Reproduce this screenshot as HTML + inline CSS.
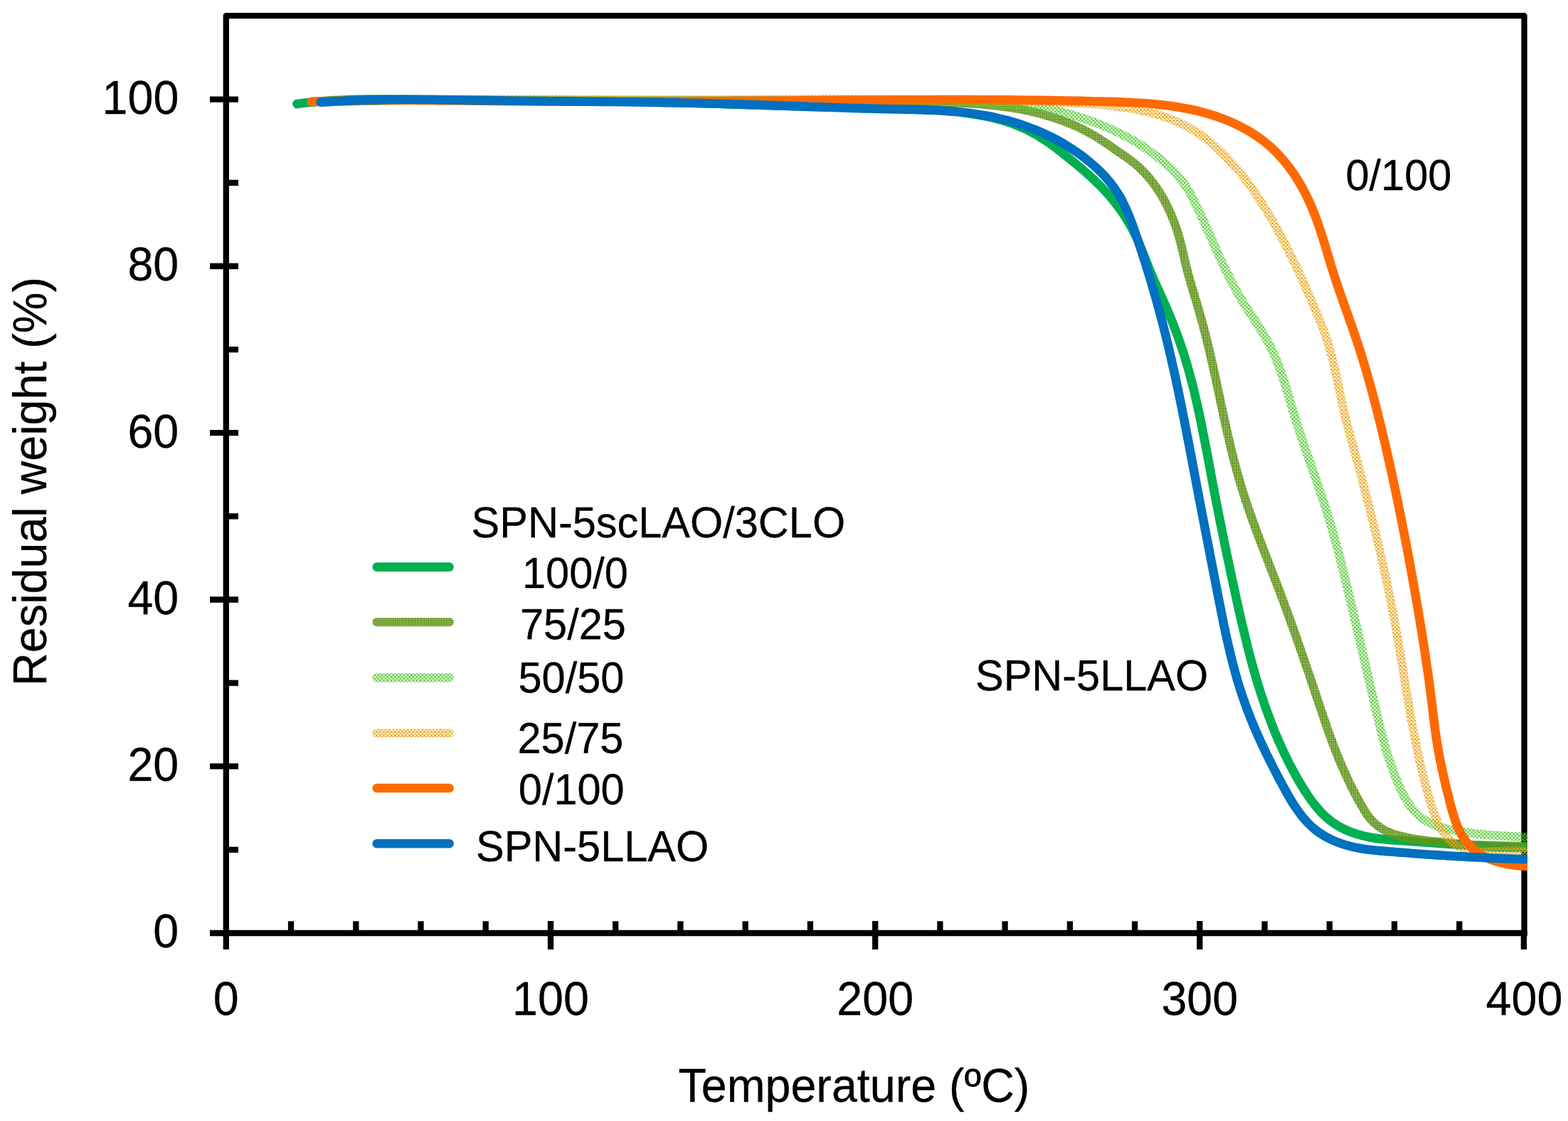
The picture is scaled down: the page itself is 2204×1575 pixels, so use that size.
<!DOCTYPE html>
<html lang="en"><head><meta charset="utf-8"><title>TGA curves: SPN-5scLAO/3CLO</title>
<style>html,body{margin:0;padding:0;background:#fff;}svg{display:block;}text{font-family:"Liberation Sans",sans-serif;fill:#000;}</style>
</head><body>
<svg width="2204" height="1575" viewBox="0 0 2204 1575">
<defs>
<clipPath id="plot"><rect x="300" y="22" width="1847" height="1289"/></clipPath>
<pattern id="pOl" patternUnits="userSpaceOnUse" width="2.57" height="2.57"><path d="M0,0H2.57V1.55H0ZM0,0H1.55V2.57H0Z" fill="#62951b"/></pattern>
<pattern id="pLg" patternUnits="userSpaceOnUse" width="5.14" height="5.14"><path d="M2.57,0.72L4.42,2.57L2.57,4.42L0.72,2.57ZM0.00,-1.85L1.85,0.00L0.00,1.85L-1.85,0.00ZM5.14,-1.85L6.99,0.00L5.14,1.85L3.29,0.00ZM0.00,3.29L1.85,5.14L0.00,6.99L-1.85,5.14ZM5.14,3.29L6.99,5.14L5.14,6.99L3.29,5.14Z" fill="#58cc38"/></pattern>
<pattern id="pYe" patternUnits="userSpaceOnUse" width="5.14" height="5.14"><path d="M-1,-1L6.14,6.14M-1,6.14L6.14,-1M4.14,-1L6.14,1M-1,4.14L1,6.14M-1,1L1,-1M4.14,6.14L6.14,4.14" stroke="#eaa416" stroke-width="1.25" fill="none"/></pattern>
</defs>
<rect x="0" y="0" width="2204" height="1575" fill="#fff"/>
<g stroke="#000" stroke-width="8.3" fill="none" stroke-linecap="butt">
<path d="M317.8,1315.1 V22.1 H2142.5 V1315.1" stroke-linejoin="round"/>
<path d="M295,1311.0 H2146.8"/>
<path d="M317.8,1193.9 H335"/>
<path d="M295,1076.7 H335"/>
<path d="M317.8,959.6 H335"/>
<path d="M295,842.5 H335"/>
<path d="M317.8,725.4 H335"/>
<path d="M295,608.2 H335"/>
<path d="M317.8,491.1 H335"/>
<path d="M295,374.0 H335"/>
<path d="M317.8,256.8 H335"/>
<path d="M295,139.7 H335"/>
<path d="M317.8,1311.0 V1334"/>
<path d="M409.0,1294.3 V1311.0"/>
<path d="M500.3,1294.3 V1311.0"/>
<path d="M591.5,1294.3 V1311.0"/>
<path d="M682.7,1294.3 V1311.0"/>
<path d="M774.0,1294.0 V1334"/>
<path d="M865.2,1294.3 V1311.0"/>
<path d="M956.4,1294.3 V1311.0"/>
<path d="M1047.7,1294.3 V1311.0"/>
<path d="M1138.9,1294.3 V1311.0"/>
<path d="M1230.2,1294.0 V1334"/>
<path d="M1321.4,1294.3 V1311.0"/>
<path d="M1412.6,1294.3 V1311.0"/>
<path d="M1503.9,1294.3 V1311.0"/>
<path d="M1595.1,1294.3 V1311.0"/>
<path d="M1686.3,1294.0 V1334"/>
<path d="M1777.6,1294.3 V1311.0"/>
<path d="M1868.8,1294.3 V1311.0"/>
<path d="M1960.0,1294.3 V1311.0"/>
<path d="M2051.3,1294.3 V1311.0"/>
<path d="M2141.9,1311.0 V1334"/>
</g>
<g clip-path="url(#plot)" fill="none" stroke-width="12.6" stroke-linecap="round" stroke-linejoin="round">
<path stroke="#00b050" stroke-width="12.6" d="M417.4,146.1C422.1,145.4 426.7,144.9 431.4,144.3C436.1,143.8 440.7,143.3 445.4,142.9C450.1,142.4 454.8,142.1 459.4,141.7C464.1,141.4 468.8,141.1 473.5,140.9C478.1,140.6 482.8,140.4 487.5,140.2C492.2,140.1 496.9,139.9 501.6,139.8C506.3,139.7 511.0,139.7 515.6,139.6C520.3,139.6 525.0,139.5 529.7,139.5C534.4,139.5 539.1,139.5 543.8,139.6C548.5,139.6 553.2,139.7 557.9,139.7C562.6,139.8 567.3,139.8 572.0,139.9C576.7,140.0 581.4,140.1 586.1,140.1C590.8,140.2 595.5,140.3 600.2,140.4C604.8,140.5 609.5,140.5 614.2,140.6C618.9,140.6 623.6,140.7 628.3,140.8C633.0,140.8 637.7,140.9 642.4,140.9C647.1,141.0 651.8,141.0 656.5,141.1C661.2,141.1 665.9,141.1 670.6,141.2C675.3,141.2 680.0,141.2 684.7,141.3C689.3,141.3 694.0,141.3 698.7,141.4C703.4,141.4 708.1,141.4 712.8,141.4C717.5,141.5 722.2,141.5 726.9,141.5C731.6,141.5 736.3,141.6 741.0,141.6C745.7,141.6 750.4,141.6 755.0,141.7C759.7,141.7 764.4,141.7 769.1,141.7C773.8,141.8 778.5,141.8 783.2,141.8C787.9,141.8 792.6,141.9 797.3,141.9C802.0,141.9 806.7,142.0 811.3,142.0C816.0,142.0 820.7,142.1 825.4,142.1C830.1,142.2 834.8,142.2 839.5,142.2C844.2,142.3 848.9,142.3 853.6,142.4C858.3,142.5 863.0,142.5 867.7,142.6C872.3,142.6 877.0,142.7 881.7,142.8C886.4,142.9 891.1,142.9 895.8,143.0C900.5,143.1 905.2,143.2 909.9,143.3C914.6,143.4 919.3,143.5 924.0,143.6C928.7,143.7 933.3,143.8 938.0,143.9C942.7,144.0 947.4,144.1 952.1,144.2C956.8,144.4 961.5,144.5 966.2,144.6C970.9,144.7 975.6,144.9 980.3,145.0C985.0,145.1 989.7,145.3 994.4,145.4C999.0,145.5 1003.7,145.7 1008.4,145.8C1013.1,145.9 1017.8,146.1 1022.5,146.2C1027.2,146.4 1031.9,146.5 1036.6,146.6C1041.3,146.8 1046.0,146.9 1050.7,147.1C1055.4,147.2 1060.1,147.3 1064.8,147.5C1069.4,147.6 1074.1,147.8 1078.8,147.9C1083.5,148.0 1088.2,148.2 1092.9,148.3C1097.6,148.4 1102.3,148.6 1107.0,148.7C1111.7,148.8 1116.4,148.9 1121.1,149.0C1125.8,149.2 1130.4,149.3 1135.1,149.4C1139.8,149.5 1144.5,149.6 1149.2,149.7C1153.9,149.8 1158.6,149.9 1163.3,150.0C1168.0,150.1 1172.7,150.2 1177.4,150.3C1182.1,150.4 1186.7,150.4 1191.4,150.5C1196.1,150.6 1200.8,150.7 1205.5,150.7C1210.2,150.8 1214.9,150.8 1219.6,150.9C1224.3,150.9 1228.9,151.0 1233.6,151.1C1238.3,151.1 1243.0,151.2 1247.7,151.3C1252.4,151.4 1257.1,151.5 1261.8,151.6C1266.5,151.7 1271.1,151.9 1275.8,152.0C1280.5,152.2 1285.2,152.4 1289.9,152.6C1294.6,152.8 1299.3,153.1 1303.9,153.3C1308.6,153.6 1313.3,154.0 1318.0,154.3C1322.7,154.7 1327.4,155.1 1332.0,155.6C1336.7,156.0 1341.4,156.5 1346.1,157.1C1350.8,157.6 1355.4,158.3 1360.1,158.9C1364.8,159.6 1369.5,160.4 1374.1,161.2C1378.8,162.0 1383.4,162.9 1388.0,163.9C1392.6,164.9 1397.2,166.0 1401.7,167.2C1406.2,168.4 1410.7,169.7 1415.2,171.1C1419.6,172.6 1424.0,174.1 1428.3,175.8C1432.7,177.5 1437.0,179.3 1441.2,181.3C1445.4,183.2 1449.5,185.4 1453.6,187.6C1457.6,189.9 1461.6,192.3 1465.5,194.9C1469.5,197.4 1473.3,200.1 1477.2,202.8C1481.0,205.6 1484.8,208.4 1488.5,211.3C1492.3,214.1 1496.0,217.1 1499.7,220.0C1503.4,223.0 1507.1,226.0 1510.7,229.0C1514.4,232.0 1518.0,235.0 1521.6,238.1C1525.2,241.2 1528.7,244.3 1532.2,247.5C1535.7,250.6 1539.1,253.9 1542.5,257.2C1545.8,260.4 1549.1,263.8 1552.3,267.2C1555.5,270.6 1558.6,274.1 1561.6,277.7C1564.7,281.3 1567.6,284.9 1570.4,288.7C1573.2,292.4 1575.9,296.2 1578.5,300.1C1581.1,303.9 1583.6,307.9 1586.0,311.9C1588.4,315.9 1590.7,320.0 1592.8,324.2C1594.9,328.3 1597.0,332.5 1598.9,336.8C1600.8,341.1 1602.6,345.4 1604.4,349.8C1606.1,354.1 1607.8,358.5 1609.5,362.9C1611.3,367.3 1613.0,371.6 1614.7,376.0C1616.5,380.4 1618.3,384.7 1620.2,389.0C1622.0,393.3 1623.9,397.6 1625.8,401.9C1627.8,406.1 1629.7,410.4 1631.6,414.7C1633.6,418.9 1635.5,423.2 1637.4,427.5C1639.3,431.8 1641.1,436.1 1643.0,440.5C1644.8,444.8 1646.6,449.1 1648.3,453.5C1650.0,457.9 1651.7,462.3 1653.4,466.7C1655.0,471.1 1656.6,475.5 1658.1,479.9C1659.7,484.4 1661.2,488.8 1662.6,493.3C1664.1,497.7 1665.5,502.2 1666.8,506.7C1668.2,511.2 1669.5,515.7 1670.7,520.2C1672.0,524.7 1673.2,529.2 1674.4,533.8C1675.6,538.3 1676.7,542.8 1677.9,547.4C1679.0,551.9 1680.1,556.5 1681.1,561.1C1682.2,565.6 1683.2,570.2 1684.2,574.8C1685.2,579.4 1686.2,584.0 1687.2,588.6C1688.1,593.2 1689.1,597.8 1690.0,602.4C1690.9,607.0 1691.8,611.6 1692.7,616.2C1693.6,620.8 1694.5,625.4 1695.4,630.0C1696.3,634.6 1697.1,639.3 1698.0,643.9C1698.9,648.5 1699.7,653.1 1700.6,657.7C1701.4,662.3 1702.3,667.0 1703.2,671.6C1704.0,676.2 1704.9,680.8 1705.8,685.4C1706.7,690.0 1707.6,694.7 1708.5,699.3C1709.3,703.9 1710.2,708.5 1711.2,713.1C1712.1,717.7 1713.0,722.3 1713.9,726.9C1714.8,731.5 1715.7,736.1 1716.7,740.7C1717.6,745.3 1718.5,749.9 1719.5,754.5C1720.4,759.1 1721.4,763.7 1722.3,768.3C1723.3,772.9 1724.2,777.5 1725.2,782.1C1726.2,786.6 1727.1,791.2 1728.1,795.8C1729.1,800.4 1730.1,805.0 1731.0,809.6C1732.0,814.2 1733.0,818.8 1734.0,823.4C1735.0,828.0 1736.0,832.5 1737.0,837.1C1738.0,841.7 1739.0,846.3 1740.0,850.9C1741.1,855.5 1742.1,860.1 1743.1,864.6C1744.2,869.2 1745.2,873.8 1746.3,878.4C1747.4,882.9 1748.5,887.5 1749.6,892.1C1750.7,896.6 1751.8,901.2 1752.9,905.7C1754.1,910.3 1755.2,914.8 1756.4,919.4C1757.6,923.9 1758.8,928.4 1760.0,933.0C1761.3,937.5 1762.5,942.0 1763.8,946.5C1765.1,951.0 1766.5,955.5 1767.8,960.0C1769.2,964.4 1770.6,968.9 1772.0,973.4C1773.4,977.8 1774.9,982.3 1776.4,986.7C1777.9,991.1 1779.4,995.5 1781.0,999.9C1782.6,1004.3 1784.2,1008.7 1785.9,1013.1C1787.6,1017.5 1789.3,1021.8 1791.0,1026.2C1792.8,1030.5 1794.6,1034.8 1796.5,1039.1C1798.3,1043.4 1800.3,1047.7 1802.2,1052.0C1804.2,1056.3 1806.2,1060.5 1808.3,1064.7C1810.4,1069.0 1812.5,1073.2 1814.7,1077.4C1816.9,1081.5 1819.2,1085.7 1821.5,1089.9C1823.8,1094.0 1826.2,1098.1 1828.6,1102.2C1831.1,1106.3 1833.6,1110.4 1836.2,1114.4C1838.8,1118.4 1841.5,1122.3 1844.3,1126.1C1847.1,1129.9 1850.1,1133.5 1853.2,1137.0C1856.2,1140.5 1859.4,1143.9 1862.8,1147.0C1866.2,1150.1 1869.7,1153.0 1873.5,1155.7C1877.2,1158.3 1881.1,1160.7 1885.2,1162.9C1889.3,1165.0 1893.5,1166.9 1897.9,1168.6C1902.2,1170.3 1906.7,1171.7 1911.2,1173.0C1915.8,1174.3 1920.4,1175.3 1925.0,1176.2C1929.7,1177.1 1934.3,1177.9 1939.0,1178.5C1943.7,1179.1 1948.4,1179.6 1953.1,1180.0C1957.9,1180.4 1962.6,1180.7 1967.3,1181.0C1972.0,1181.3 1976.7,1181.6 1981.4,1181.9C1986.1,1182.2 1990.8,1182.6 1995.5,1182.9C2000.2,1183.2 2004.9,1183.5 2009.5,1183.9C2014.2,1184.2 2018.9,1184.6 2023.5,1184.9C2028.2,1185.3 2032.9,1185.6 2037.5,1186.0C2042.2,1186.3 2046.9,1186.7 2051.6,1187.0C2056.2,1187.3 2060.9,1187.6 2065.6,1188.0C2070.2,1188.3 2074.9,1188.6 2079.6,1188.8C2084.2,1189.1 2088.9,1189.3 2093.6,1189.6C2098.3,1189.8 2103.0,1190.0 2107.7,1190.1C2112.3,1190.3 2117.0,1190.4 2121.7,1190.5C2126.4,1190.6 2131.1,1190.6 2135.8,1190.6C2140.6,1190.6 2145.3,1190.6 2150.0,1190.5"/>
<path stroke="url(#pOl)" stroke-width="12.2" d="M456.0,143.3C460.7,143.1 465.4,142.9 470.0,142.8C474.7,142.6 479.4,142.5 484.1,142.3C488.8,142.2 493.5,142.1 498.1,141.9C502.8,141.8 507.5,141.7 512.2,141.6C516.9,141.5 521.6,141.4 526.3,141.3C530.9,141.2 535.6,141.2 540.3,141.1C545.0,141.0 549.7,141.0 554.4,140.9C559.1,140.9 563.8,140.8 568.4,140.8C573.1,140.7 577.8,140.7 582.5,140.7C587.2,140.6 591.9,140.6 596.6,140.6C601.3,140.6 606.0,140.6 610.6,140.6C615.3,140.6 620.0,140.6 624.7,140.6C629.4,140.6 634.1,140.6 638.8,140.6C643.5,140.6 648.2,140.6 652.9,140.6C657.5,140.7 662.2,140.7 666.9,140.7C671.6,140.7 676.3,140.8 681.0,140.8C685.7,140.8 690.4,140.8 695.1,140.9C699.8,140.9 704.5,140.9 709.2,141.0C713.8,141.0 718.5,141.0 723.2,141.1C727.9,141.1 732.6,141.1 737.3,141.2C742.0,141.2 746.7,141.3 751.4,141.3C756.1,141.3 760.7,141.4 765.4,141.4C770.1,141.4 774.8,141.4 779.5,141.5C784.2,141.5 788.9,141.5 793.6,141.5C798.3,141.6 803.0,141.6 807.6,141.6C812.3,141.6 817.0,141.6 821.7,141.7C826.4,141.7 831.1,141.7 835.8,141.7C840.5,141.7 845.1,141.7 849.8,141.7C854.5,141.7 859.2,141.7 863.9,141.7C868.6,141.7 873.3,141.7 877.9,141.7C882.6,141.7 887.3,141.7 892.0,141.7C896.7,141.7 901.4,141.7 906.1,141.6C910.7,141.6 915.4,141.6 920.1,141.6C924.8,141.6 929.5,141.6 934.2,141.6C938.9,141.5 943.5,141.5 948.2,141.5C952.9,141.5 957.6,141.5 962.3,141.5C967.0,141.5 971.6,141.4 976.3,141.4C981.0,141.4 985.7,141.4 990.4,141.4C995.1,141.4 999.8,141.3 1004.4,141.3C1009.1,141.3 1013.8,141.3 1018.5,141.3C1023.2,141.3 1027.9,141.2 1032.5,141.2C1037.2,141.2 1041.9,141.2 1046.6,141.2C1051.3,141.2 1056.0,141.2 1060.7,141.2C1065.3,141.1 1070.0,141.1 1074.7,141.1C1079.4,141.1 1084.1,141.1 1088.8,141.1C1093.5,141.1 1098.1,141.1 1102.8,141.1C1107.5,141.1 1112.2,141.1 1116.9,141.1C1121.6,141.1 1126.3,141.1 1131.0,141.1C1135.6,141.1 1140.3,141.2 1145.0,141.2C1149.7,141.2 1154.4,141.2 1159.1,141.2C1163.8,141.2 1168.5,141.3 1173.1,141.3C1177.8,141.3 1182.5,141.3 1187.2,141.4C1191.9,141.4 1196.6,141.4 1201.3,141.5C1206.0,141.5 1210.7,141.6 1215.4,141.6C1220.1,141.7 1224.7,141.7 1229.4,141.8C1234.1,141.8 1238.8,141.9 1243.5,141.9C1248.2,142.0 1252.9,142.1 1257.6,142.1C1262.3,142.2 1267.0,142.3 1271.7,142.4C1276.4,142.4 1281.1,142.5 1285.8,142.6C1290.5,142.7 1295.2,142.8 1299.9,142.9C1304.6,143.0 1309.3,143.1 1314.0,143.2C1318.7,143.3 1323.4,143.5 1328.1,143.6C1332.7,143.8 1337.4,143.9 1342.1,144.1C1346.8,144.3 1351.5,144.6 1356.2,144.8C1360.9,145.1 1365.6,145.4 1370.2,145.7C1374.9,146.0 1379.6,146.4 1384.2,146.8C1388.9,147.2 1393.5,147.7 1398.2,148.2C1402.8,148.7 1407.5,149.3 1412.1,150.0C1416.7,150.6 1421.3,151.3 1426.0,152.1C1430.6,152.8 1435.2,153.7 1439.7,154.6C1444.3,155.5 1448.9,156.5 1453.5,157.6C1458.0,158.7 1462.6,159.8 1467.1,161.1C1471.6,162.4 1476.1,163.7 1480.6,165.1C1485.1,166.6 1489.5,168.1 1493.9,169.7C1498.3,171.4 1502.7,173.1 1507.0,174.9C1511.3,176.7 1515.6,178.7 1519.8,180.7C1524.0,182.8 1528.1,184.9 1532.2,187.2C1536.3,189.5 1540.4,191.9 1544.3,194.4C1548.3,196.9 1552.2,199.5 1556.1,202.1C1560.0,204.8 1563.9,207.5 1567.7,210.2C1571.6,212.9 1575.4,215.6 1579.3,218.3C1583.1,220.9 1587.0,223.6 1590.7,226.5C1594.5,229.3 1598.0,232.2 1601.5,235.4C1604.9,238.6 1608.1,241.9 1611.2,245.3C1614.3,248.8 1617.3,252.4 1620.1,256.1C1622.9,259.9 1625.6,263.7 1628.2,267.6C1630.7,271.6 1633.2,275.6 1635.5,279.7C1637.8,283.8 1639.9,288.0 1642.0,292.2C1644.0,296.5 1645.9,300.8 1647.7,305.2C1649.5,309.5 1651.2,314.0 1652.7,318.4C1654.3,322.8 1655.7,327.3 1657.0,331.8C1658.3,336.3 1659.4,340.8 1660.6,345.4C1661.7,349.9 1662.8,354.4 1663.8,359.0C1664.9,363.5 1665.9,368.1 1667.0,372.6C1668.1,377.1 1669.3,381.7 1670.5,386.2C1671.7,390.7 1673.0,395.2 1674.3,399.7C1675.6,404.2 1677.0,408.7 1678.3,413.2C1679.7,417.7 1681.1,422.2 1682.4,426.7C1683.7,431.2 1685.1,435.7 1686.3,440.3C1687.6,444.8 1688.9,449.3 1690.1,453.8C1691.3,458.3 1692.5,462.8 1693.7,467.4C1694.8,471.9 1696.0,476.4 1697.1,481.0C1698.2,485.5 1699.3,490.1 1700.4,494.6C1701.5,499.2 1702.5,503.8 1703.5,508.3C1704.6,512.9 1705.6,517.5 1706.6,522.1C1707.6,526.6 1708.6,531.2 1709.6,535.8C1710.6,540.4 1711.5,545.0 1712.5,549.6C1713.5,554.2 1714.5,558.8 1715.4,563.4C1716.4,568.0 1717.4,572.6 1718.4,577.2C1719.4,581.8 1720.4,586.3 1721.4,590.9C1722.4,595.5 1723.4,600.1 1724.4,604.7C1725.4,609.3 1726.5,613.8 1727.6,618.4C1728.6,623.0 1729.7,627.6 1730.8,632.1C1731.9,636.7 1733.1,641.2 1734.2,645.8C1735.4,650.3 1736.6,654.8 1737.8,659.3C1739.0,663.9 1740.3,668.4 1741.6,672.9C1742.9,677.4 1744.2,681.8 1745.6,686.3C1747.0,690.8 1748.4,695.3 1749.9,699.7C1751.3,704.2 1752.8,708.6 1754.3,713.0C1755.8,717.5 1757.4,721.9 1759.0,726.3C1760.5,730.7 1762.1,735.1 1763.7,739.5C1765.3,743.9 1767.0,748.3 1768.6,752.7C1770.3,757.1 1771.9,761.5 1773.6,765.8C1775.3,770.2 1777.0,774.6 1778.6,779.0C1780.3,783.4 1782.0,787.7 1783.7,792.1C1785.4,796.5 1787.1,800.9 1788.8,805.2C1790.5,809.6 1792.2,814.0 1793.9,818.4C1795.5,822.8 1797.2,827.1 1798.9,831.5C1800.5,835.9 1802.2,840.3 1803.8,844.7C1805.4,849.1 1807.1,853.5 1808.7,857.9C1810.3,862.3 1811.9,866.7 1813.5,871.1C1815.0,875.5 1816.6,880.0 1818.2,884.4C1819.8,888.8 1821.3,893.2 1822.9,897.6C1824.4,902.1 1826.0,906.5 1827.5,910.9C1829.0,915.3 1830.6,919.8 1832.1,924.2C1833.6,928.6 1835.1,933.1 1836.6,937.5C1838.2,941.9 1839.7,946.4 1841.2,950.8C1842.7,955.2 1844.2,959.7 1845.7,964.1C1847.1,968.6 1848.6,973.0 1850.1,977.4C1851.6,981.9 1853.1,986.3 1854.6,990.8C1856.1,995.2 1857.6,999.6 1859.1,1004.1C1860.6,1008.5 1862.1,1012.9 1863.6,1017.3C1865.1,1021.8 1866.7,1026.2 1868.3,1030.6C1869.9,1035.0 1871.5,1039.4 1873.1,1043.8C1874.7,1048.2 1876.4,1052.5 1878.1,1056.9C1879.9,1061.2 1881.6,1065.6 1883.4,1069.9C1885.2,1074.2 1887.1,1078.5 1889.0,1082.8C1890.9,1087.1 1892.9,1091.4 1894.9,1095.6C1896.9,1099.9 1899.0,1104.1 1901.2,1108.3C1903.3,1112.5 1905.5,1116.7 1907.7,1120.9C1909.9,1125.0 1912.2,1129.1 1914.6,1133.2C1916.9,1137.3 1919.3,1141.3 1922.0,1145.1C1924.7,1148.9 1927.7,1152.4 1931.0,1155.5C1934.3,1158.7 1937.9,1161.5 1941.8,1163.9C1945.7,1166.4 1949.8,1168.4 1954.2,1170.2C1958.6,1171.9 1963.1,1173.3 1967.7,1174.5C1972.4,1175.7 1977.0,1176.7 1981.7,1177.6C1986.4,1178.4 1991.0,1179.2 1995.7,1179.9C2000.4,1180.5 2005.0,1181.1 2009.7,1181.6C2014.4,1182.2 2019.0,1182.6 2023.7,1183.1C2028.3,1183.5 2033.0,1184.0 2037.6,1184.4C2042.3,1184.8 2046.9,1185.2 2051.6,1185.5C2056.3,1185.9 2060.9,1186.2 2065.6,1186.5C2070.3,1186.8 2075.0,1187.0 2079.7,1187.2C2084.4,1187.4 2089.1,1187.6 2093.7,1187.8C2098.4,1188.0 2103.1,1188.1 2107.8,1188.3C2112.5,1188.4 2117.2,1188.5 2121.9,1188.6C2126.6,1188.7 2131.3,1188.8 2136.0,1188.8C2140.7,1188.9 2145.3,1189.0 2150.0,1189.0"/>
<path stroke="url(#pLg)" stroke-width="12.4" d="M456.0,143.3C460.7,143.2 465.3,143.0 470.0,142.9C474.7,142.7 479.3,142.6 484.0,142.5C488.7,142.4 493.4,142.3 498.0,142.1C502.7,142.0 507.4,141.9 512.0,141.8C516.7,141.7 521.4,141.6 526.0,141.5C530.7,141.4 535.4,141.4 540.1,141.3C544.7,141.2 549.4,141.1 554.1,141.0C558.7,141.0 563.4,140.9 568.1,140.8C572.8,140.8 577.4,140.7 582.1,140.6C586.8,140.6 591.4,140.5 596.1,140.5C600.8,140.4 605.5,140.4 610.1,140.3C614.8,140.3 619.5,140.3 624.1,140.2C628.8,140.2 633.5,140.2 638.2,140.1C642.8,140.1 647.5,140.1 652.2,140.1C656.9,140.0 661.5,140.0 666.2,140.0C670.9,140.0 675.5,140.0 680.2,139.9C684.9,139.9 689.6,139.9 694.2,139.9C698.9,139.9 703.6,139.9 708.3,139.9C712.9,139.9 717.6,139.9 722.3,139.9C726.9,139.9 731.6,139.9 736.3,139.9C741.0,139.9 745.6,139.9 750.3,139.9C755.0,139.9 759.7,139.9 764.3,139.9C769.0,140.0 773.7,140.0 778.4,140.0C783.0,140.0 787.7,140.0 792.4,140.0C797.0,140.0 801.7,140.0 806.4,140.1C811.1,140.1 815.7,140.1 820.4,140.1C825.1,140.1 829.8,140.1 834.4,140.1C839.1,140.2 843.8,140.2 848.5,140.2C853.1,140.2 857.8,140.2 862.5,140.2C867.1,140.3 871.8,140.3 876.5,140.3C881.2,140.3 885.8,140.3 890.5,140.3C895.2,140.3 899.9,140.4 904.5,140.4C909.2,140.4 913.9,140.4 918.6,140.4C923.2,140.4 927.9,140.4 932.6,140.4C937.2,140.4 941.9,140.4 946.6,140.4C951.3,140.4 955.9,140.4 960.6,140.4C965.3,140.4 970.0,140.4 974.6,140.4C979.3,140.4 984.0,140.4 988.6,140.4C993.3,140.4 998.0,140.4 1002.7,140.4C1007.3,140.4 1012.0,140.4 1016.7,140.4C1021.4,140.3 1026.0,140.3 1030.7,140.3C1035.4,140.3 1040.0,140.3 1044.7,140.2C1049.4,140.2 1054.1,140.2 1058.7,140.2C1063.4,140.2 1068.1,140.1 1072.7,140.1C1077.4,140.1 1082.1,140.1 1086.8,140.0C1091.4,140.0 1096.1,140.0 1100.8,140.0C1105.5,139.9 1110.1,139.9 1114.8,139.9C1119.5,139.9 1124.1,139.9 1128.8,139.9C1133.5,139.8 1138.2,139.8 1142.8,139.8C1147.5,139.8 1152.2,139.8 1156.8,139.8C1161.5,139.8 1166.2,139.8 1170.9,139.8C1175.5,139.8 1180.2,139.8 1184.9,139.8C1189.5,139.8 1194.2,139.8 1198.9,139.8C1203.6,139.8 1208.2,139.9 1212.9,139.9C1217.6,139.9 1222.2,139.9 1226.9,140.0C1231.6,140.0 1236.3,140.1 1240.9,140.1C1245.6,140.2 1250.3,140.2 1255.0,140.3C1259.6,140.3 1264.3,140.4 1269.0,140.5C1273.6,140.5 1278.3,140.6 1283.0,140.7C1287.7,140.8 1292.3,140.9 1297.0,141.0C1301.7,141.1 1306.4,141.2 1311.0,141.3C1315.7,141.4 1320.4,141.5 1325.0,141.7C1329.7,141.8 1334.4,141.9 1339.1,142.1C1343.7,142.2 1348.4,142.4 1353.1,142.6C1357.8,142.7 1362.4,142.9 1367.1,143.1C1371.8,143.3 1376.5,143.5 1381.1,143.7C1385.8,143.9 1390.5,144.1 1395.2,144.3C1399.8,144.6 1404.5,144.8 1409.2,145.1C1413.8,145.3 1418.5,145.6 1423.2,146.0C1427.8,146.3 1432.5,146.7 1437.1,147.2C1441.8,147.7 1446.4,148.2 1451.0,148.9C1455.6,149.5 1460.2,150.3 1464.7,151.2C1469.3,152.0 1473.8,153.0 1478.4,154.0C1482.9,155.0 1487.4,156.1 1492.0,157.3C1496.5,158.5 1501.0,159.7 1505.5,161.0C1510.0,162.4 1514.5,163.7 1518.9,165.2C1523.4,166.6 1527.8,168.1 1532.3,169.7C1536.7,171.3 1541.1,173.0 1545.5,174.7C1549.8,176.4 1554.2,178.2 1558.5,180.1C1562.8,182.0 1567.0,184.0 1571.3,186.0C1575.5,188.0 1579.7,190.2 1583.8,192.4C1587.9,194.6 1592.0,196.9 1596.0,199.3C1600.0,201.7 1604.0,204.1 1607.8,206.7C1611.7,209.2 1615.6,211.9 1619.3,214.7C1623.1,217.4 1626.8,220.2 1630.4,223.2C1634.0,226.1 1637.5,229.2 1640.9,232.3C1644.4,235.4 1647.7,238.7 1651.0,242.0C1654.2,245.4 1657.3,248.9 1660.2,252.5C1663.1,256.1 1665.8,259.9 1668.3,263.9C1670.8,267.8 1673.1,271.9 1675.2,276.0C1677.4,280.2 1679.5,284.4 1681.5,288.6C1683.5,292.8 1685.5,297.1 1687.5,301.3C1689.5,305.6 1691.5,309.8 1693.4,314.1C1695.3,318.3 1697.2,322.6 1699.1,326.9C1701.0,331.2 1702.8,335.4 1704.7,339.7C1706.6,344.0 1708.5,348.3 1710.3,352.5C1712.2,356.8 1714.2,361.0 1716.1,365.3C1718.1,369.5 1720.0,373.7 1722.1,377.9C1724.1,382.2 1726.2,386.3 1728.3,390.5C1730.4,394.6 1732.6,398.8 1734.9,402.9C1737.1,407.0 1739.4,411.1 1741.7,415.1C1744.1,419.2 1746.5,423.2 1749.0,427.2C1751.4,431.1 1753.9,435.1 1756.5,439.0C1759.1,442.9 1761.6,446.8 1764.2,450.8C1766.8,454.7 1769.3,458.6 1771.8,462.6C1774.3,466.5 1776.7,470.5 1779.0,474.6C1781.3,478.6 1783.5,482.7 1785.6,486.9C1787.7,491.1 1789.6,495.3 1791.5,499.6C1793.4,503.9 1795.1,508.2 1796.8,512.6C1798.5,517.0 1800.1,521.4 1801.6,525.8C1803.1,530.2 1804.6,534.7 1806.0,539.1C1807.4,543.6 1808.7,548.0 1810.1,552.5C1811.4,557.0 1812.7,561.5 1814.0,566.0C1815.4,570.5 1816.7,574.9 1818.0,579.4C1819.4,583.9 1820.8,588.3 1822.2,592.8C1823.6,597.2 1825.1,601.7 1826.5,606.1C1828.0,610.6 1829.5,615.0 1831.0,619.4C1832.5,623.8 1834.0,628.3 1835.5,632.7C1837.1,637.1 1838.6,641.5 1840.1,645.9C1841.7,650.3 1843.2,654.8 1844.8,659.2C1846.3,663.6 1847.8,668.0 1849.4,672.4C1850.9,676.8 1852.4,681.2 1853.9,685.7C1855.4,690.1 1856.9,694.5 1858.4,698.9C1859.9,703.4 1861.4,707.8 1862.8,712.3C1864.2,716.7 1865.7,721.2 1867.0,725.6C1868.4,730.1 1869.8,734.5 1871.1,739.0C1872.4,743.5 1873.7,748.0 1875.0,752.5C1876.2,757.0 1877.5,761.5 1878.7,766.0C1879.9,770.5 1881.1,775.0 1882.3,779.5C1883.4,784.1 1884.6,788.6 1885.7,793.1C1886.9,797.7 1888.0,802.2 1889.1,806.7C1890.3,811.3 1891.4,815.8 1892.5,820.4C1893.6,824.9 1894.7,829.4 1895.8,834.0C1896.9,838.5 1897.9,843.1 1899.0,847.6C1900.1,852.2 1901.2,856.7 1902.3,861.3C1903.4,865.8 1904.4,870.4 1905.5,874.9C1906.6,879.5 1907.7,884.0 1908.7,888.6C1909.8,893.1 1910.9,897.7 1911.9,902.2C1913.0,906.8 1914.1,911.3 1915.1,915.9C1916.2,920.4 1917.3,925.0 1918.3,929.5C1919.4,934.1 1920.4,938.6 1921.5,943.2C1922.5,947.7 1923.6,952.3 1924.6,956.8C1925.7,961.4 1926.7,965.9 1927.8,970.5C1928.8,975.0 1929.9,979.6 1930.9,984.1C1931.9,988.7 1933.0,993.2 1934.1,997.8C1935.1,1002.3 1936.2,1006.9 1937.3,1011.4C1938.4,1015.9 1939.5,1020.4 1940.6,1025.0C1941.8,1029.5 1943.0,1034.0 1944.2,1038.5C1945.4,1043.0 1946.7,1047.5 1948.0,1052.0C1949.3,1056.5 1950.7,1060.9 1952.1,1065.4C1953.6,1069.8 1955.1,1074.3 1956.7,1078.7C1958.2,1083.1 1959.9,1087.5 1961.6,1091.9C1963.4,1096.3 1965.2,1100.7 1967.1,1105.1C1969.0,1109.4 1971.1,1113.7 1973.3,1117.8C1975.5,1122.0 1977.8,1126.0 1980.4,1129.9C1983.0,1133.7 1985.8,1137.3 1988.9,1140.6C1991.9,1144.0 1995.2,1147.0 1998.9,1149.7C2002.5,1152.3 2006.5,1154.6 2010.7,1156.6C2014.9,1158.6 2019.4,1160.3 2024.0,1161.8C2028.5,1163.2 2033.3,1164.4 2038.0,1165.5C2042.8,1166.5 2047.6,1167.4 2052.3,1168.2C2057.0,1169.0 2061.7,1169.7 2066.4,1170.3C2071.1,1170.9 2075.7,1171.5 2080.3,1171.9C2085.0,1172.4 2089.6,1172.8 2094.2,1173.2C2098.8,1173.5 2103.4,1173.8 2108.0,1174.1C2112.6,1174.4 2117.2,1174.7 2121.9,1175.0C2126.5,1175.2 2131.1,1175.5 2135.8,1175.7C2140.5,1176.0 2145.2,1176.3 2150.0,1176.6"/>
<path stroke="url(#pYe)" stroke-width="12.0" d="M456.0,143.3C460.7,143.2 465.3,143.0 470.0,142.9C474.7,142.8 479.4,142.7 484.0,142.6C488.7,142.4 493.4,142.3 498.0,142.2C502.7,142.1 507.4,142.0 512.0,142.0C516.7,141.9 521.4,141.8 526.1,141.7C530.7,141.6 535.4,141.5 540.1,141.5C544.7,141.4 549.4,141.3 554.1,141.2C558.8,141.2 563.4,141.1 568.1,141.1C572.8,141.0 577.4,141.0 582.1,140.9C586.8,140.9 591.5,140.8 596.1,140.8C600.8,140.7 605.5,140.7 610.1,140.7C614.8,140.6 619.5,140.6 624.1,140.6C628.8,140.5 633.5,140.5 638.2,140.5C642.8,140.5 647.5,140.5 652.2,140.4C656.8,140.4 661.5,140.4 666.2,140.4C670.9,140.4 675.5,140.4 680.2,140.4C684.9,140.4 689.5,140.4 694.2,140.4C698.9,140.4 703.6,140.4 708.2,140.4C712.9,140.4 717.6,140.4 722.2,140.4C726.9,140.4 731.6,140.4 736.3,140.4C740.9,140.4 745.6,140.4 750.3,140.4C754.9,140.5 759.6,140.5 764.3,140.5C769.0,140.5 773.6,140.5 778.3,140.5C783.0,140.5 787.6,140.6 792.3,140.6C797.0,140.6 801.7,140.6 806.3,140.6C811.0,140.6 815.7,140.7 820.3,140.7C825.0,140.7 829.7,140.7 834.4,140.7C839.0,140.8 843.7,140.8 848.4,140.8C853.0,140.8 857.7,140.8 862.4,140.9C867.1,140.9 871.7,140.9 876.4,140.9C881.1,140.9 885.7,140.9 890.4,141.0C895.1,141.0 899.8,141.0 904.4,141.0C909.1,141.0 913.8,141.0 918.5,141.0C923.1,141.1 927.8,141.1 932.5,141.1C937.1,141.1 941.8,141.1 946.5,141.1C951.2,141.1 955.8,141.1 960.5,141.1C965.2,141.1 969.9,141.1 974.5,141.1C979.2,141.1 983.9,141.1 988.5,141.1C993.2,141.1 997.9,141.1 1002.6,141.1C1007.2,141.1 1011.9,141.0 1016.6,141.0C1021.3,141.0 1025.9,141.0 1030.6,141.0C1035.3,140.9 1040.0,140.9 1044.6,140.9C1049.3,140.9 1054.0,140.8 1058.6,140.8C1063.3,140.8 1068.0,140.8 1072.7,140.7C1077.3,140.7 1082.0,140.7 1086.7,140.6C1091.4,140.6 1096.0,140.6 1100.7,140.6C1105.4,140.5 1110.1,140.5 1114.7,140.5C1119.4,140.4 1124.1,140.4 1128.7,140.4C1133.4,140.3 1138.1,140.3 1142.8,140.3C1147.4,140.2 1152.1,140.2 1156.8,140.2C1161.5,140.2 1166.1,140.1 1170.8,140.1C1175.5,140.1 1180.2,140.1 1184.8,140.0C1189.5,140.0 1194.2,140.0 1198.8,140.0C1203.5,139.9 1208.2,139.9 1212.9,139.9C1217.5,139.9 1222.2,139.9 1226.9,139.9C1231.6,139.9 1236.2,139.8 1240.9,139.8C1245.6,139.8 1250.2,139.8 1254.9,139.8C1259.6,139.8 1264.3,139.8 1268.9,139.8C1273.6,139.8 1278.3,139.9 1283.0,139.9C1287.6,139.9 1292.3,139.9 1297.0,139.9C1301.6,139.9 1306.3,140.0 1311.0,140.0C1315.7,140.0 1320.3,140.1 1325.0,140.1C1329.7,140.1 1334.3,140.2 1339.0,140.2C1343.7,140.3 1348.4,140.3 1353.0,140.4C1357.7,140.4 1362.4,140.5 1367.0,140.6C1371.7,140.6 1376.4,140.7 1381.0,140.8C1385.7,140.9 1390.4,141.0 1395.1,141.1C1399.7,141.2 1404.4,141.3 1409.1,141.4C1413.7,141.5 1418.4,141.6 1423.1,141.7C1427.7,141.8 1432.4,141.9 1437.1,142.1C1441.7,142.2 1446.4,142.4 1451.1,142.5C1455.7,142.7 1460.4,142.8 1465.1,143.0C1469.7,143.1 1474.4,143.3 1479.1,143.5C1483.7,143.7 1488.4,143.9 1493.1,144.0C1497.7,144.2 1502.4,144.4 1507.1,144.7C1511.7,144.9 1516.4,145.1 1521.1,145.4C1525.7,145.6 1530.4,145.9 1535.0,146.2C1539.7,146.5 1544.3,146.9 1549.0,147.3C1553.6,147.7 1558.3,148.2 1562.9,148.7C1567.6,149.2 1572.2,149.8 1576.8,150.5C1581.4,151.1 1586.0,151.8 1590.7,152.7C1595.3,153.5 1599.9,154.4 1604.4,155.4C1609.0,156.4 1613.6,157.5 1618.1,158.7C1622.7,159.9 1627.2,161.2 1631.7,162.6C1636.1,164.0 1640.6,165.6 1644.9,167.2C1649.3,168.9 1653.6,170.7 1657.9,172.6C1662.1,174.6 1666.3,176.7 1670.4,178.9C1674.5,181.1 1678.5,183.5 1682.4,186.0C1686.3,188.6 1690.1,191.3 1693.8,194.1C1697.5,196.9 1701.1,199.9 1704.7,202.9C1708.2,206.0 1711.6,209.2 1715.0,212.4C1718.4,215.6 1721.7,218.9 1724.9,222.3C1728.1,225.7 1731.3,229.1 1734.4,232.6C1737.5,236.1 1740.5,239.7 1743.4,243.3C1746.4,246.9 1749.3,250.6 1752.1,254.3C1754.9,258.0 1757.7,261.8 1760.4,265.6C1763.1,269.4 1765.7,273.3 1768.3,277.2C1770.9,281.1 1773.4,285.0 1775.9,288.9C1778.4,292.9 1780.9,296.9 1783.3,300.9C1785.7,305.0 1788.0,309.0 1790.3,313.1C1792.6,317.2 1794.9,321.3 1797.1,325.4C1799.4,329.5 1801.6,333.6 1803.7,337.7C1805.9,341.9 1808.0,346.0 1810.1,350.2C1812.2,354.4 1814.3,358.6 1816.3,362.8C1818.3,367.0 1820.3,371.2 1822.3,375.4C1824.3,379.6 1826.3,383.8 1828.2,388.1C1830.2,392.3 1832.1,396.6 1834.0,400.8C1835.9,405.1 1837.8,409.4 1839.6,413.7C1841.5,417.9 1843.3,422.2 1845.2,426.5C1847.0,430.8 1848.8,435.1 1850.6,439.5C1852.4,443.8 1854.2,448.1 1855.9,452.5C1857.7,456.8 1859.3,461.2 1861.0,465.6C1862.6,469.9 1864.1,474.3 1865.5,478.8C1867.0,483.2 1868.3,487.7 1869.6,492.2C1870.9,496.7 1872.1,501.2 1873.2,505.7C1874.3,510.3 1875.4,514.8 1876.4,519.4C1877.5,523.9 1878.5,528.5 1879.4,533.1C1880.4,537.6 1881.4,542.2 1882.3,546.8C1883.3,551.4 1884.3,556.0 1885.2,560.5C1886.2,565.1 1887.2,569.7 1888.3,574.2C1889.3,578.8 1890.4,583.3 1891.5,587.9C1892.6,592.4 1893.8,596.9 1895.0,601.4C1896.2,605.9 1897.4,610.4 1898.6,614.9C1899.9,619.4 1901.1,623.9 1902.3,628.4C1903.6,632.9 1904.8,637.4 1906.0,641.9C1907.2,646.4 1908.5,650.9 1909.7,655.4C1910.9,659.9 1912.1,664.5 1913.3,669.0C1914.5,673.5 1915.7,678.0 1916.9,682.5C1918.0,687.1 1919.2,691.6 1920.4,696.1C1921.6,700.6 1922.7,705.2 1923.9,709.7C1925.0,714.2 1926.2,718.8 1927.3,723.3C1928.4,727.8 1929.6,732.4 1930.7,736.9C1931.8,741.5 1932.9,746.0 1934.0,750.6C1935.1,755.1 1936.2,759.7 1937.2,764.2C1938.3,768.8 1939.4,773.3 1940.4,777.9C1941.5,782.4 1942.5,787.0 1943.5,791.6C1944.6,796.1 1945.6,800.7 1946.6,805.3C1947.6,809.8 1948.5,814.4 1949.5,819.0C1950.5,823.6 1951.4,828.1 1952.4,832.7C1953.3,837.3 1954.3,841.9 1955.2,846.4C1956.1,851.0 1957.0,855.6 1957.9,860.2C1958.7,864.8 1959.6,869.4 1960.5,874.0C1961.3,878.6 1962.1,883.1 1963.0,887.7C1963.8,892.3 1964.6,896.9 1965.4,901.5C1966.2,906.1 1966.9,910.7 1967.7,915.3C1968.5,919.9 1969.3,924.5 1970.0,929.1C1970.8,933.7 1971.5,938.3 1972.3,942.9C1973.0,947.5 1973.8,952.1 1974.6,956.7C1975.3,961.3 1976.1,965.9 1976.8,970.5C1977.6,975.1 1978.4,979.7 1979.2,984.3C1979.9,988.9 1980.7,993.5 1981.5,998.1C1982.3,1002.7 1983.2,1007.3 1984.0,1011.9C1984.8,1016.5 1985.7,1021.1 1986.5,1025.7C1987.4,1030.2 1988.3,1034.8 1989.2,1039.4C1990.1,1044.0 1991.1,1048.6 1992.0,1053.2C1993.0,1057.7 1994.0,1062.3 1995.0,1066.9C1996.0,1071.4 1997.1,1076.0 1998.2,1080.6C1999.3,1085.1 2000.4,1089.7 2001.5,1094.3C2002.7,1098.8 2003.9,1103.4 2005.1,1107.9C2006.4,1112.5 2007.6,1117.0 2008.9,1121.5C2010.3,1126.1 2011.6,1130.6 2013.1,1135.1C2014.5,1139.6 2016.1,1144.0 2017.8,1148.4C2019.6,1152.7 2021.5,1156.9 2023.7,1161.0C2025.9,1165.1 2028.3,1168.9 2031.1,1172.6C2033.9,1176.3 2037.0,1179.7 2040.5,1182.8C2044.0,1185.8 2047.8,1188.4 2051.9,1190.4C2055.9,1192.4 2060.3,1193.8 2064.8,1194.7C2069.3,1195.7 2074.0,1196.2 2078.9,1196.5C2083.7,1196.7 2088.6,1196.7 2093.6,1196.6C2098.6,1196.4 2103.6,1196.1 2108.6,1195.8C2113.5,1195.6 2118.4,1195.3 2123.2,1195.2C2128.1,1195.1 2132.7,1195.2 2137.2,1195.7C2141.7,1196.1 2146.0,1196.8 2150.0,1198.0"/>
<path stroke="#ff6a00" stroke-width="12.6" d="M437.8,142.9C442.5,142.7 447.2,142.5 451.9,142.4C456.5,142.2 461.2,142.1 465.9,142.0C470.6,141.8 475.3,141.7 479.9,141.6C484.6,141.5 489.3,141.4 494.0,141.3C498.7,141.2 503.3,141.2 508.0,141.1C512.7,141.0 517.4,141.0 522.1,140.9C526.7,140.9 531.4,140.9 536.1,140.8C540.8,140.8 545.4,140.8 550.1,140.8C554.8,140.8 559.5,140.8 564.1,140.8C568.8,140.8 573.5,140.8 578.1,140.8C582.8,140.8 587.5,140.8 592.2,140.9C596.8,140.9 601.5,140.9 606.2,141.0C610.9,141.0 615.5,141.0 620.2,141.1C624.9,141.1 629.6,141.2 634.2,141.2C638.9,141.3 643.6,141.3 648.2,141.3C652.9,141.4 657.6,141.4 662.3,141.5C666.9,141.6 671.6,141.6 676.3,141.7C681.0,141.7 685.7,141.8 690.3,141.8C695.0,141.9 699.7,141.9 704.4,142.0C709.0,142.0 713.7,142.0 718.4,142.1C723.1,142.1 727.8,142.2 732.4,142.2C737.1,142.2 741.8,142.3 746.5,142.3C751.2,142.3 755.9,142.4 760.5,142.4C765.2,142.4 769.9,142.5 774.6,142.5C779.3,142.5 784.0,142.6 788.6,142.6C793.3,142.6 798.0,142.6 802.7,142.6C807.4,142.7 812.1,142.7 816.8,142.7C821.4,142.7 826.1,142.7 830.8,142.7C835.5,142.8 840.2,142.8 844.9,142.8C849.6,142.8 854.2,142.8 858.9,142.8C863.6,142.8 868.3,142.8 873.0,142.8C877.7,142.8 882.4,142.8 887.0,142.8C891.7,142.8 896.4,142.8 901.1,142.8C905.8,142.8 910.5,142.8 915.2,142.8C919.8,142.8 924.5,142.8 929.2,142.7C933.9,142.7 938.6,142.7 943.3,142.7C947.9,142.7 952.6,142.7 957.3,142.7C962.0,142.6 966.7,142.6 971.4,142.6C976.0,142.6 980.7,142.5 985.4,142.5C990.1,142.5 994.8,142.5 999.4,142.4C1004.1,142.4 1008.8,142.4 1013.5,142.4C1018.2,142.3 1022.8,142.3 1027.5,142.3C1032.2,142.2 1036.9,142.2 1041.5,142.1C1046.2,142.1 1050.9,142.1 1055.6,142.0C1060.2,142.0 1064.9,142.0 1069.6,141.9C1074.3,141.9 1078.9,141.8 1083.6,141.8C1088.3,141.8 1093.0,141.7 1097.6,141.7C1102.3,141.6 1107.0,141.6 1111.7,141.5C1116.3,141.5 1121.0,141.5 1125.7,141.4C1130.3,141.4 1135.0,141.3 1139.7,141.3C1144.4,141.2 1149.0,141.2 1153.7,141.2C1158.4,141.1 1163.0,141.1 1167.7,141.0C1172.4,141.0 1177.1,141.0 1181.7,140.9C1186.4,140.9 1191.1,140.8 1195.7,140.8C1200.4,140.8 1205.1,140.7 1209.8,140.7C1214.4,140.6 1219.1,140.6 1223.8,140.6C1228.4,140.5 1233.1,140.5 1237.8,140.5C1242.5,140.5 1247.1,140.4 1251.8,140.4C1256.5,140.4 1261.1,140.3 1265.8,140.3C1270.5,140.3 1275.2,140.3 1279.8,140.2C1284.5,140.2 1289.2,140.2 1293.9,140.2C1298.5,140.2 1303.2,140.2 1307.9,140.2C1312.6,140.1 1317.2,140.1 1321.9,140.1C1326.6,140.1 1331.3,140.1 1335.9,140.1C1340.6,140.1 1345.3,140.1 1350.0,140.1C1354.7,140.1 1359.3,140.1 1364.0,140.1C1368.7,140.2 1373.4,140.2 1378.1,140.2C1382.7,140.2 1387.4,140.2 1392.1,140.2C1396.8,140.3 1401.5,140.3 1406.1,140.3C1410.8,140.4 1415.5,140.4 1420.2,140.4C1424.9,140.5 1429.6,140.5 1434.3,140.6C1438.9,140.6 1443.6,140.7 1448.3,140.7C1453.0,140.8 1457.7,140.8 1462.4,140.9C1467.1,141.0 1471.8,141.0 1476.5,141.1C1481.2,141.2 1485.9,141.2 1490.6,141.3C1495.3,141.4 1499.9,141.5 1504.6,141.6C1509.3,141.7 1514.0,141.8 1518.7,141.9C1523.4,142.0 1528.1,142.1 1532.8,142.2C1537.5,142.3 1542.3,142.4 1547.0,142.6C1551.7,142.7 1556.4,142.8 1561.1,142.9C1565.8,143.1 1570.5,143.2 1575.2,143.4C1579.9,143.6 1584.6,143.8 1589.3,144.0C1594.0,144.2 1598.7,144.5 1603.3,144.8C1608.0,145.1 1612.7,145.4 1617.4,145.8C1622.0,146.2 1626.7,146.7 1631.3,147.2C1635.9,147.7 1640.6,148.2 1645.2,148.8C1649.8,149.5 1654.4,150.2 1658.9,150.9C1663.5,151.7 1668.1,152.6 1672.6,153.5C1677.1,154.4 1681.6,155.5 1686.1,156.6C1690.6,157.7 1695.1,158.9 1699.5,160.3C1703.9,161.6 1708.4,163.0 1712.7,164.6C1717.1,166.1 1721.5,167.8 1725.8,169.5C1730.1,171.3 1734.4,173.2 1738.7,175.3C1742.9,177.3 1747.1,179.5 1751.2,181.8C1755.3,184.1 1759.4,186.5 1763.4,189.1C1767.3,191.7 1771.2,194.4 1774.9,197.2C1778.7,200.1 1782.3,203.1 1785.8,206.2C1789.2,209.4 1792.6,212.6 1795.8,216.0C1799.1,219.4 1802.2,222.9 1805.2,226.5C1808.2,230.1 1811.0,233.8 1813.8,237.6C1816.6,241.4 1819.2,245.2 1821.7,249.2C1824.2,253.1 1826.6,257.1 1829.0,261.1C1831.3,265.2 1833.5,269.3 1835.6,273.5C1837.6,277.7 1839.6,281.9 1841.6,286.1C1843.5,290.4 1845.3,294.7 1847.0,299.0C1848.7,303.4 1850.3,307.8 1851.9,312.2C1853.5,316.6 1855.0,321.0 1856.4,325.4C1857.9,329.9 1859.3,334.3 1860.7,338.8C1862.0,343.3 1863.4,347.8 1864.7,352.3C1866.1,356.8 1867.4,361.3 1868.8,365.7C1870.1,370.2 1871.5,374.7 1872.9,379.2C1874.3,383.7 1875.8,388.1 1877.2,392.6C1878.7,397.0 1880.2,401.5 1881.7,405.9C1883.2,410.3 1884.8,414.7 1886.3,419.2C1887.9,423.6 1889.4,428.0 1891.0,432.4C1892.6,436.8 1894.1,441.2 1895.7,445.7C1897.3,450.1 1898.8,454.5 1900.4,458.9C1901.9,463.3 1903.4,467.7 1904.9,472.2C1906.4,476.6 1907.9,481.0 1909.4,485.5C1910.8,489.9 1912.2,494.4 1913.6,498.8C1915.0,503.3 1916.4,507.8 1917.7,512.3C1919.1,516.7 1920.4,521.2 1921.7,525.7C1923.0,530.2 1924.3,534.7 1925.5,539.2C1926.8,543.7 1928.0,548.2 1929.2,552.7C1930.4,557.3 1931.6,561.8 1932.8,566.3C1934.0,570.8 1935.1,575.4 1936.3,579.9C1937.4,584.4 1938.6,589.0 1939.7,593.5C1940.8,598.1 1941.9,602.6 1943.0,607.2C1944.1,611.7 1945.1,616.3 1946.2,620.8C1947.3,625.4 1948.3,629.9 1949.4,634.5C1950.4,639.1 1951.4,643.6 1952.5,648.2C1953.5,652.8 1954.5,657.3 1955.5,661.9C1956.5,666.5 1957.5,671.0 1958.5,675.6C1959.5,680.2 1960.4,684.8 1961.4,689.3C1962.4,693.9 1963.3,698.5 1964.3,703.1C1965.2,707.7 1966.2,712.3 1967.1,716.8C1968.1,721.4 1969.0,726.0 1969.9,730.6C1970.8,735.2 1971.7,739.8 1972.6,744.4C1973.5,749.0 1974.4,753.6 1975.3,758.2C1976.2,762.8 1977.1,767.3 1978.0,771.9C1978.8,776.5 1979.7,781.1 1980.6,785.7C1981.4,790.3 1982.3,794.9 1983.1,799.5C1983.9,804.1 1984.8,808.8 1985.6,813.4C1986.4,818.0 1987.3,822.6 1988.1,827.2C1988.9,831.8 1989.7,836.4 1990.5,841.0C1991.3,845.6 1992.1,850.2 1992.9,854.8C1993.7,859.4 1994.4,864.0 1995.2,868.7C1996.0,873.3 1996.7,877.9 1997.5,882.5C1998.3,887.1 1999.0,891.7 1999.7,896.4C2000.5,901.0 2001.2,905.6 2001.9,910.2C2002.6,914.8 2003.3,919.5 2004.0,924.1C2004.7,928.7 2005.3,933.4 2006.0,938.0C2006.7,942.6 2007.3,947.3 2008.0,951.9C2008.6,956.5 2009.2,961.2 2009.8,965.8C2010.4,970.5 2011.0,975.1 2011.6,979.8C2012.2,984.4 2012.8,989.1 2013.3,993.7C2013.9,998.4 2014.4,1003.0 2015.0,1007.7C2015.6,1012.3 2016.2,1017.0 2016.8,1021.6C2017.4,1026.2 2018.0,1030.9 2018.7,1035.5C2019.4,1040.1 2020.1,1044.7 2020.9,1049.3C2021.6,1053.9 2022.5,1058.4 2023.3,1063.0C2024.2,1067.6 2025.1,1072.1 2026.1,1076.7C2027.0,1081.2 2028.1,1085.8 2029.1,1090.3C2030.1,1094.9 2031.2,1099.4 2032.3,1104.0C2033.4,1108.5 2034.5,1113.1 2035.7,1117.7C2036.8,1122.3 2038.0,1126.9 2039.2,1131.6C2040.4,1136.2 2041.7,1140.8 2043.1,1145.3C2044.5,1149.9 2046.0,1154.4 2047.7,1158.7C2049.4,1163.1 2051.4,1167.3 2053.6,1171.3C2055.8,1175.3 2058.3,1179.1 2061.1,1182.7C2063.9,1186.2 2067.1,1189.5 2070.5,1192.6C2073.9,1195.6 2077.7,1198.3 2081.7,1200.7C2085.7,1203.1 2089.9,1205.2 2094.3,1207.1C2098.8,1208.9 2103.4,1210.5 2108.0,1211.7C2112.7,1213.0 2117.4,1214.0 2122.2,1214.8C2126.9,1215.6 2131.7,1216.1 2136.3,1216.4C2141.0,1216.6 2145.6,1216.7 2150.0,1216.5"/>
<path stroke="#0070c0" stroke-width="12.6" d="M450.7,143.6C455.4,143.3 460.0,143.0 464.7,142.7C469.3,142.4 474.0,142.2 478.7,142.0C483.3,141.7 488.0,141.5 492.7,141.3C497.3,141.1 502.0,141.0 506.6,140.8C511.3,140.7 516.0,140.6 520.6,140.4C525.3,140.3 530.0,140.2 534.6,140.2C539.3,140.1 544.0,140.0 548.6,140.0C553.3,139.9 558.0,139.9 562.6,139.9C567.3,139.8 572.0,139.8 576.6,139.8C581.3,139.8 586.0,139.8 590.6,139.9C595.3,139.9 600.0,139.9 604.7,139.9C609.3,140.0 614.0,140.0 618.7,140.1C623.3,140.1 628.0,140.2 632.7,140.3C637.3,140.3 642.0,140.4 646.7,140.4C651.4,140.5 656.0,140.6 660.7,140.7C665.4,140.7 670.0,140.8 674.7,140.9C679.4,141.0 684.1,141.0 688.7,141.1C693.4,141.2 698.1,141.3 702.7,141.3C707.4,141.4 712.1,141.5 716.8,141.5C721.4,141.6 726.1,141.6 730.8,141.7C735.4,141.8 740.1,141.8 744.8,141.9C749.5,141.9 754.1,142.0 758.8,142.0C763.5,142.1 768.1,142.1 772.8,142.2C777.5,142.2 782.2,142.3 786.8,142.3C791.5,142.3 796.2,142.4 800.8,142.4C805.5,142.5 810.2,142.5 814.9,142.6C819.5,142.6 824.2,142.7 828.9,142.7C833.5,142.8 838.2,142.8 842.9,142.9C847.5,142.9 852.2,142.9 856.9,143.0C861.6,143.0 866.2,143.1 870.9,143.2C875.6,143.2 880.2,143.3 884.9,143.3C889.6,143.4 894.2,143.4 898.9,143.5C903.6,143.6 908.3,143.6 912.9,143.7C917.6,143.8 922.3,143.8 926.9,143.9C931.6,144.0 936.3,144.1 940.9,144.1C945.6,144.2 950.3,144.3 954.9,144.4C959.6,144.5 964.3,144.6 968.9,144.7C973.6,144.8 978.3,144.9 982.9,145.0C987.6,145.1 992.3,145.2 996.9,145.3C1001.6,145.4 1006.3,145.6 1010.9,145.7C1015.6,145.8 1020.3,146.0 1024.9,146.1C1029.6,146.2 1034.3,146.4 1038.9,146.5C1043.6,146.7 1048.3,146.8 1052.9,147.0C1057.6,147.1 1062.3,147.3 1066.9,147.4C1071.6,147.6 1076.3,147.7 1080.9,147.9C1085.6,148.1 1090.3,148.2 1094.9,148.4C1099.6,148.6 1104.3,148.7 1108.9,148.9C1113.6,149.1 1118.3,149.2 1122.9,149.4C1127.6,149.5 1132.3,149.7 1136.9,149.9C1141.6,150.0 1146.3,150.2 1150.9,150.4C1155.6,150.5 1160.3,150.7 1164.9,150.8C1169.6,151.0 1174.3,151.1 1178.9,151.3C1183.6,151.4 1188.3,151.6 1193.0,151.7C1197.6,151.9 1202.3,152.0 1207.0,152.1C1211.6,152.3 1216.3,152.4 1221.0,152.5C1225.7,152.6 1230.3,152.8 1235.0,152.9C1239.7,153.0 1244.4,153.1 1249.0,153.2C1253.7,153.3 1258.4,153.4 1263.1,153.5C1267.8,153.6 1272.4,153.7 1277.1,153.8C1281.8,153.9 1286.5,154.0 1291.1,154.1C1295.8,154.3 1300.5,154.4 1305.1,154.6C1309.8,154.8 1314.5,155.0 1319.1,155.2C1323.8,155.5 1328.4,155.8 1333.1,156.1C1337.7,156.5 1342.4,156.8 1347.0,157.3C1351.6,157.7 1356.2,158.2 1360.9,158.8C1365.5,159.3 1370.1,160.0 1374.7,160.7C1379.3,161.4 1383.9,162.1 1388.5,163.0C1393.0,163.8 1397.6,164.8 1402.2,165.8C1406.7,166.8 1411.3,168.0 1415.8,169.2C1420.3,170.4 1424.8,171.7 1429.3,173.1C1433.8,174.5 1438.2,176.0 1442.7,177.6C1447.1,179.2 1451.5,180.8 1455.8,182.6C1460.2,184.4 1464.5,186.2 1468.7,188.2C1473.0,190.2 1477.2,192.2 1481.4,194.4C1485.5,196.5 1489.6,198.8 1493.7,201.1C1497.7,203.5 1501.7,205.9 1505.7,208.4C1509.6,211.0 1513.4,213.6 1517.2,216.4C1521.0,219.1 1524.7,221.9 1528.3,224.9C1532.0,227.8 1535.5,230.8 1539.0,233.9C1542.4,237.1 1545.8,240.3 1549.1,243.6C1552.3,247.0 1555.5,250.4 1558.5,254.0C1561.4,257.5 1564.3,261.2 1566.9,265.0C1569.6,268.8 1572.1,272.7 1574.4,276.7C1576.7,280.7 1578.8,284.9 1580.8,289.1C1582.8,293.3 1584.7,297.6 1586.4,301.9C1588.2,306.2 1589.9,310.6 1591.5,315.0C1593.1,319.5 1594.7,323.9 1596.2,328.4C1597.8,332.8 1599.3,337.3 1600.8,341.7C1602.2,346.2 1603.7,350.6 1605.2,355.1C1606.6,359.5 1608.1,364.0 1609.5,368.4C1610.9,372.9 1612.3,377.4 1613.6,381.8C1615.0,386.3 1616.4,390.8 1617.7,395.2C1619.0,399.7 1620.3,404.2 1621.6,408.7C1622.9,413.1 1624.2,417.6 1625.5,422.1C1626.7,426.6 1628.0,431.1 1629.2,435.6C1630.4,440.0 1631.6,444.5 1632.8,449.0C1634.0,453.6 1635.1,458.1 1636.3,462.6C1637.4,467.1 1638.6,471.6 1639.7,476.1C1640.8,480.7 1641.9,485.2 1643.0,489.7C1644.0,494.3 1645.1,498.8 1646.1,503.4C1647.2,507.9 1648.2,512.5 1649.2,517.0C1650.3,521.6 1651.3,526.1 1652.3,530.7C1653.2,535.3 1654.2,539.8 1655.2,544.4C1656.2,549.0 1657.1,553.6 1658.1,558.2C1659.0,562.7 1659.9,567.3 1660.9,571.9C1661.8,576.5 1662.7,581.1 1663.6,585.7C1664.5,590.3 1665.4,594.8 1666.3,599.4C1667.2,604.0 1668.1,608.6 1669.0,613.2C1669.9,617.8 1670.8,622.4 1671.7,627.0C1672.5,631.6 1673.4,636.2 1674.3,640.8C1675.2,645.4 1676.0,650.0 1676.9,654.6C1677.8,659.1 1678.6,663.7 1679.5,668.3C1680.4,672.9 1681.3,677.5 1682.1,682.1C1683.0,686.7 1683.9,691.2 1684.7,695.8C1685.6,700.4 1686.5,705.0 1687.4,709.5C1688.3,714.1 1689.1,718.7 1690.0,723.3C1690.9,727.8 1691.8,732.4 1692.7,737.0C1693.5,741.5 1694.4,746.1 1695.3,750.7C1696.2,755.3 1697.1,759.8 1698.0,764.4C1698.9,769.0 1699.8,773.5 1700.6,778.1C1701.5,782.7 1702.4,787.3 1703.3,791.9C1704.2,796.4 1705.1,801.0 1706.0,805.6C1706.9,810.2 1707.8,814.8 1708.7,819.4C1709.6,824.0 1710.5,828.6 1711.4,833.2C1712.3,837.8 1713.2,842.4 1714.1,847.0C1715.0,851.6 1715.9,856.2 1716.8,860.8C1717.7,865.4 1718.7,870.0 1719.6,874.6C1720.6,879.2 1721.5,883.8 1722.5,888.4C1723.5,892.9 1724.5,897.5 1725.6,902.1C1726.6,906.7 1727.7,911.2 1728.8,915.8C1729.8,920.3 1731.0,924.9 1732.1,929.4C1733.3,933.9 1734.5,938.5 1735.7,943.0C1736.9,947.5 1738.2,951.9 1739.5,956.4C1740.9,960.9 1742.2,965.3 1743.6,969.7C1745.1,974.2 1746.5,978.6 1748.1,982.9C1749.6,987.3 1751.1,991.7 1752.8,996.0C1754.4,1000.4 1756.1,1004.7 1757.8,1009.0C1759.5,1013.3 1761.3,1017.6 1763.1,1021.8C1764.9,1026.1 1766.8,1030.4 1768.7,1034.6C1770.6,1038.8 1772.5,1043.1 1774.5,1047.3C1776.5,1051.5 1778.5,1055.7 1780.5,1059.9C1782.6,1064.1 1784.6,1068.3 1786.8,1072.5C1788.9,1076.7 1791.0,1080.9 1793.2,1085.1C1795.4,1089.3 1797.6,1093.5 1799.8,1097.7C1802.0,1101.9 1804.3,1106.1 1806.6,1110.2C1808.9,1114.4 1811.2,1118.5 1813.7,1122.6C1816.1,1126.7 1818.6,1130.7 1821.2,1134.5C1823.8,1138.4 1826.6,1142.2 1829.4,1145.8C1832.3,1149.5 1835.3,1152.9 1838.4,1156.2C1841.6,1159.5 1844.9,1162.6 1848.5,1165.5C1852.0,1168.3 1855.8,1171.0 1859.7,1173.4C1863.6,1175.8 1867.7,1177.9 1871.9,1179.9C1876.1,1181.9 1880.4,1183.6 1884.9,1185.1C1889.3,1186.7 1893.8,1188.0 1898.4,1189.1C1903.0,1190.3 1907.6,1191.2 1912.2,1192.0C1916.9,1192.8 1921.5,1193.4 1926.2,1194.0C1930.9,1194.5 1935.6,1195.0 1940.3,1195.4C1945.0,1195.8 1949.7,1196.2 1954.3,1196.5C1959.0,1196.9 1963.7,1197.3 1968.3,1197.6C1973.0,1198.0 1977.6,1198.4 1982.2,1198.7C1986.9,1199.1 1991.5,1199.4 1996.2,1199.7C2000.8,1200.1 2005.4,1200.4 2010.1,1200.7C2014.7,1201.0 2019.4,1201.3 2024.0,1201.6C2028.7,1201.9 2033.3,1202.2 2038.0,1202.5C2042.6,1202.8 2047.3,1203.1 2052.0,1203.3C2056.6,1203.6 2061.3,1203.9 2066.0,1204.1C2070.6,1204.3 2075.3,1204.6 2080.0,1204.8C2084.6,1205.0 2089.3,1205.3 2094.0,1205.5C2098.7,1205.7 2103.3,1205.8 2108.0,1206.0C2112.7,1206.2 2117.3,1206.4 2122.0,1206.5C2126.7,1206.7 2131.3,1206.8 2136.0,1207.0C2140.7,1207.1 2145.3,1207.2 2150.0,1207.3"/>
</g>
<g fill="none" stroke-width="12.6" stroke-linecap="round">
<path stroke="#00b050" stroke-width="12.6" d="M529.7,796.6 H631.6"/>
<path stroke="url(#pOl)" stroke-width="12.0" d="M529.4,874.0 H631.9"/>
<path stroke="url(#pLg)" stroke-width="12.6" d="M529.7,952.3 H631.6"/>
<path stroke="url(#pYe)" stroke-width="11.8" d="M529.3,1030.0 H632.0"/>
<path stroke="#ff6a00" stroke-width="12.6" d="M529.7,1107.3 H631.6"/>
<path stroke="#0070c0" stroke-width="12.6" d="M529.7,1185.3 H631.6"/>
</g>
<g stroke="#000" stroke-width="0.3" stroke-linejoin="round">
<text transform="translate(251.3,1331.4) scale(1.000,1.040)" font-size="64.6" text-anchor="end">0</text>
<text transform="translate(251.3,1097.1) scale(1.000,1.040)" font-size="64.6" text-anchor="end">20</text>
<text transform="translate(251.3,862.9) scale(1.000,1.040)" font-size="64.6" text-anchor="end">40</text>
<text transform="translate(251.3,628.6) scale(1.000,1.040)" font-size="64.6" text-anchor="end">60</text>
<text transform="translate(251.3,394.4) scale(1.000,1.040)" font-size="64.6" text-anchor="end">80</text>
<text transform="translate(251.3,160.1) scale(1.000,1.040)" font-size="64.6" text-anchor="end">100</text>
<text transform="translate(317.8,1425.8) scale(1.000,1.040)" font-size="64.6" text-anchor="middle">0</text>
<text transform="translate(774.0,1425.8) scale(1.000,1.040)" font-size="64.6" text-anchor="middle">100</text>
<text transform="translate(1230.2,1425.8) scale(1.000,1.040)" font-size="64.6" text-anchor="middle">200</text>
<text transform="translate(1686.3,1425.8) scale(1.000,1.040)" font-size="64.6" text-anchor="middle">300</text>
<text transform="translate(2142.5,1425.8) scale(1.000,1.040)" font-size="64.6" text-anchor="middle">400</text>
<text transform="translate(1200.4,1547.5) scale(1.000,1.020)" font-size="64.6" text-anchor="middle">Temperature (ºC)</text>
<text transform="translate(64.5,676.5) rotate(-90) scale(1.000,1.020)" font-size="64.6" text-anchor="middle">Residual weight (%)</text>
<text transform="translate(662.6,755.3) scale(1.000,1.030)" font-size="59.5">SPN-5scLAO/3CLO</text>
<text transform="translate(734.0,826.3) scale(1.000,1.030)" font-size="59.5">100/0</text>
<text transform="translate(731.0,898.0) scale(1.000,1.030)" font-size="59.5">75/25</text>
<text transform="translate(728.5,973.0) scale(1.000,1.030)" font-size="59.5">50/50</text>
<text transform="translate(727.5,1058.0) scale(1.000,1.030)" font-size="59.5">25/75</text>
<text transform="translate(728.8,1130.0) scale(1.000,1.030)" font-size="59.5">0/100</text>
<text transform="translate(669.0,1210.3) scale(1.000,1.030)" font-size="59.5">SPN-5LLAO</text>
<text transform="translate(1371.0,970.4) scale(1.000,1.030)" font-size="59.5">SPN-5LLAO</text>
<text transform="translate(1891.5,267.1) scale(1.000,1.030)" font-size="59.5">0/100</text>
</g>
</svg>
</body></html>
